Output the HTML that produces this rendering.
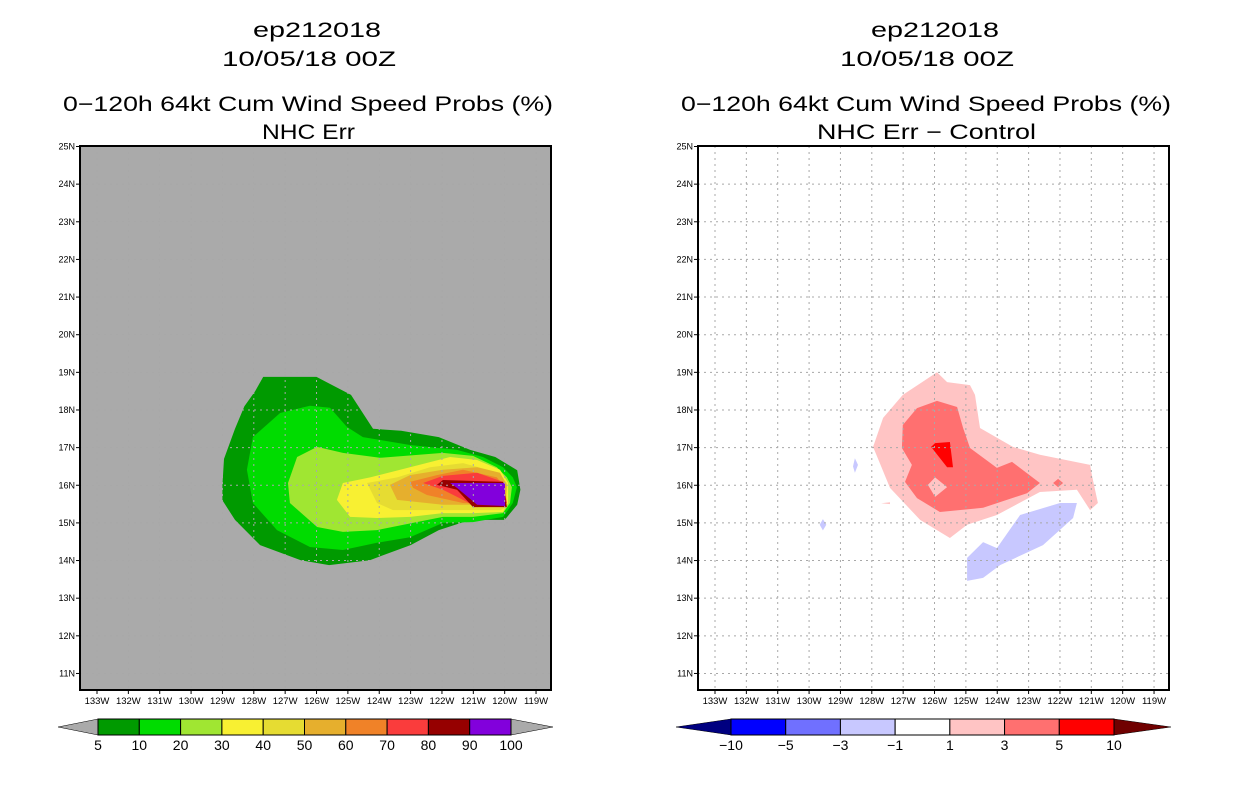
<!DOCTYPE html>
<html><head><meta charset="utf-8">
<style>
html,body{margin:0;padding:0;background:#fff;}
svg{display:block;font-family:"Liberation Sans",sans-serif;}
</style></head>
<body>
<svg id="fig" width="1236" height="800" viewBox="0 0 1236 800" xmlns="http://www.w3.org/2000/svg">
<g font-size="21" fill="#000" lengthAdjust="spacingAndGlyphs">
<text x="253" y="37" textLength="128" lengthAdjust="spacingAndGlyphs">ep212018</text>
<text x="222" y="66" textLength="174" lengthAdjust="spacingAndGlyphs">10/05/18 00Z</text>
<text x="63" y="111" textLength="490" lengthAdjust="spacingAndGlyphs">0−120h 64kt Cum Wind Speed Probs (%)</text>
<text x="262" y="139" textLength="93" lengthAdjust="spacingAndGlyphs">NHC Err</text>
<text x="871" y="37" textLength="128" lengthAdjust="spacingAndGlyphs">ep212018</text>
<text x="840" y="66" textLength="174" lengthAdjust="spacingAndGlyphs">10/05/18 00Z</text>
<text x="681" y="111" textLength="490" lengthAdjust="spacingAndGlyphs">0−120h 64kt Cum Wind Speed Probs (%)</text>
<text x="817" y="139" textLength="219" lengthAdjust="spacingAndGlyphs">NHC Err − Control</text>
</g>
</svg>
<script>
// ---- data ----
const lonTicks=[133,132,131,130,129,128,127,126,125,124,123,122,121,120,119];
const latTicks=[25,24,23,22,21,20,19,18,17,16,15,14,13,12,11];
const leftLevels=["5","10","20","30","40","50","60","70","80","90","100"];
const leftColors=["#009a00","#00dc00","#a0e632","#f8f032","#e6dc32","#e6af2d","#f08228","#fa3c3c","#960000","#8200dc"];
const rightLevels=["−10","−5","−3","−1","1","3","5","10"];
const rightColors=["#0000ff","#7070ff","#c8c8ff","#ffffff","#ffc4c4","#ff7070","#ff0000"];
// contour polygons [lonW, latN]
const p5=[[129.0,16.0],[128.95,16.7],[128.6,17.5],[128.3,18.1],[127.96,18.5],[127.7,18.88],[126.0,18.88],[124.9,18.4],[124.2,17.5],[123.3,17.45],[122.1,17.28],[121.1,16.94],[120.3,16.75],[119.6,16.4],[119.5,15.88],[119.6,15.48],[120.0,15.08],[121.1,15.08],[122.1,14.81],[123.0,14.41],[124.3,14.01],[125.6,13.88],[126.5,14.01],[127.8,14.41],[128.6,15.08],[129.0,15.6]];
const p10=[[127.16,17.92],[126.21,18.11],[125.57,18.06],[125.03,17.55],[124.52,17.28],[123.02,17.07],[121.52,16.94],[120.69,16.75],[120.05,16.48],[119.74,16.21],[119.61,15.95],[119.74,15.53],[120.05,15.16],[121.01,15.02],[121.97,15.0],[123.02,14.62],[124.07,14.47],[125.16,14.28],[126.21,14.36],[127.26,14.81],[128.03,15.53],[128.22,16.41],[128.03,17.28]];
const p20=[[125.98,17.02],[125.16,16.86],[123.98,16.73],[121.97,16.86],[121.01,16.78],[120.25,16.48],[119.93,16.21],[119.77,15.95],[119.83,15.53],[120.05,15.26],[121.01,15.16],[121.97,15.16],[124.07,14.81],[125.16,14.76],[125.98,14.89],[126.85,15.53],[126.91,16.06],[126.62,16.75]];
const p30=[[125.16,16.06],[124.29,16.21],[123.02,16.48],[121.74,16.75],[120.88,16.67],[120.15,16.41],[119.89,16.06],[119.89,15.53],[120.05,15.29],[121.01,15.26],[121.97,15.26],[123.02,15.16],[124.07,15.13],[124.93,15.16],[125.35,15.61]];
const p40=[[124.39,16.06],[123.43,16.21],[122.38,16.48],[121.33,16.59],[120.25,16.35],[119.93,16.06],[119.93,15.42],[120.15,15.34],[121.97,15.34],[123.56,15.34],[124.07,15.53]];
const p50=[[123.66,16.01],[123.02,16.27],[121.97,16.41],[120.88,16.48],[120.15,16.33],[119.93,16.01],[119.99,15.48],[121.97,15.48],[123.43,15.61]];
const p60=[[123.02,16.09],[122.16,16.27],[121.33,16.41],[120.25,16.21],[120.05,16.01],[120.05,15.48],[121.33,15.53],[122.48,15.74],[122.92,15.93]];
const p70=[[122.60,16.06],[121.97,16.25],[120.88,16.33],[120.05,16.09],[119.93,15.53],[120.88,15.42],[121.33,15.61],[121.97,15.88]];
const p80=[[122.16,16.01],[121.97,16.14],[120.05,16.09],[119.93,15.42],[121.01,15.42],[121.52,15.88]];
const p90=[[121.74,16.06],[119.99,16.06],[119.99,15.45],[120.88,15.48],[121.52,15.93]];
const rPink=[[125.92,19.0],[125.6,18.74],[124.87,18.66],[124.71,18.4],[124.55,17.52],[123.5,17.02],[122.64,16.81],[121.04,16.54],[120.98,16.27],[120.79,15.53],[121.04,15.34],[121.46,15.88],[122.64,15.82],[124.01,15.21],[124.96,14.95],[125.51,14.6],[126.46,15.08],[127.42,15.93],[127.96,17.02],[127.64,17.79],[127.01,18.4]];
const rMed=[[126.56,18.05],[125.92,18.24],[125.28,18.08],[125.09,17.52],[124.87,16.99],[124.01,16.46],[123.53,16.62],[122.64,16.06],[123.05,15.79],[124.45,15.4],[125.83,15.29],[126.56,15.66],[126.94,16.09],[126.72,16.54],[127.04,16.99],[127.01,17.6]];
const rHole=[[126.21,16.01],[125.98,16.21],[125.6,15.95],[125.98,15.69]];
const rRed=[[126.11,17.02],[125.98,17.12],[125.51,17.15],[125.41,16.48],[125.6,16.48]];
const rDot=[[122.22,16.06],[122.06,16.17],[121.9,16.06],[122.06,15.95]];
const rPinkDot=[[127.7,15.52],[127.42,15.55],[127.42,15.5]];
const rBlue=[[124.96,14.07],[124.45,14.49],[124.01,14.33],[123.27,15.21],[122.0,15.53],[121.46,15.53],[121.58,15.13],[122.54,14.41],[123.91,13.88],[124.45,13.54],[124.96,13.46]];
const rBlue2=[[128.54,16.72],[128.44,16.54],[128.54,16.33],[128.6,16.5]];
const rBlue3=[[129.56,15.1],[129.45,14.95],[129.56,14.8],[129.66,14.95]];

const NS="http://www.w3.org/2000/svg";
const svg=document.getElementById('fig');
function mk(tag,attrs,parent){const e=document.createElementNS(NS,tag);for(const k in attrs)e.setAttribute(k,attrs[k]);(parent||svg).appendChild(e);return e;}

function panel(x0,side){
  const L=x0,R=x0+471,T=146,B=690;
  const xs=lon=>x0+17+(133-lon)*31.36;
  const ys=lat=>146.5+(25-lat)*37.64;
  const g=mk('g',{});
  
  
  const cid='clip-'+side;
  const cp=mk('clipPath',{id:cid},g);mk('rect',{x:L,y:T,width:R-L,height:B-T},cp);
  const bg=mk('rect',{x:L,y:T,width:R-L,height:B-T,fill:side==='left'?'#aaaaaa':'#ffffff'},g);
  
  
  const cg=mk('g',{'clip-path':'url(#'+cid+')'},g);
  return {g,cg,xs,ys,L,R,T,B};
}
function poly(P,pts,fill,name){
  const d=pts.map((p,i)=>(i?'L':'M')+P.xs(p[0]).toFixed(1)+' '+P.ys(p[1]).toFixed(1)).join(' ')+'Z';
  const e=mk('path',{d:d,fill:fill},P.cg);
  
  
}
function axes(P,side){
  lonTicks.forEach(l=>{
    const x=P.xs(l);
    mk('line',{x1:x,y1:P.T,x2:x,y2:P.B,stroke:'#a8a8a8','stroke-width':1,'stroke-dasharray':'2,4'},P.g);
    mk('line',{x1:x,y1:P.B,x2:x,y2:P.B+4,stroke:'#000'},P.g);
    const t=mk('text',{x:x,y:P.B+14,'font-size':9.5,'text-anchor':'middle'},P.g);
    t.textContent=l+'W';
    
    
  });
  latTicks.forEach(l=>{
    const y=P.ys(l);
    mk('line',{x1:P.L,y1:y,x2:P.R,y2:y,stroke:'#a8a8a8','stroke-width':1,'stroke-dasharray':'2,4'},P.g);
    mk('line',{x1:P.L-4,y1:y,x2:P.L,y2:y,stroke:'#000'},P.g);
    const t=mk('text',{x:P.L-5,y:y+3,'font-size':9,'text-anchor':'end'},P.g);
    t.textContent=l+'N';
    
    
  });
  const f=mk('rect',{x:P.L,y:P.T,width:P.R-P.L,height:P.B-P.T,fill:'none',stroke:'#000','stroke-width':2},P.g);
  
  
}
// left
const PL=panel(80,'left');
[[p5,0],[p10,1],[p20,2],[p30,3],[p40,4],[p50,5],[p60,6],[p70,7],[p80,8],[p90,9]].forEach(([p,i])=>poly(PL,p,leftColors[i],'contour-'+leftLevels[i]+'pct'));
axes(PL,'left');
// right
const PR=panel(698,'right');
poly(PR,rPink,rightColors[4],'contour-pos-1');
poly(PR,rPinkDot,rightColors[4],'contour-pos-1-speck');
poly(PR,rMed,rightColors[5],'contour-pos-3');
poly(PR,rHole,rightColors[4],'contour-pos-3-hole');
poly(PR,rDot,rightColors[5],'contour-pos-3-spot');
poly(PR,rRed,rightColors[6],'contour-pos-5');
poly(PR,rBlue,rightColors[2],'contour-neg-1');
poly(PR,rBlue2,rightColors[2],'contour-neg-1-spot');
poly(PR,rBlue3,rightColors[2],'contour-neg-1-spot2');
axes(PR,'right');

// colorbars
function colorbar(side,x0,x1,tl,tr,colors,labels,leftTri,rightTri,y0,h){
  const g=mk('g',{});
  
  
  const n=colors.length,w=(x1-x0)/n,ym=y0+h/2;
  mk('polygon',{points:`${tl},${ym} ${x0},${y0} ${x0},${y0+h}`,fill:leftTri,stroke:'#000','stroke-width':0.5},g);
  mk('polygon',{points:`${tr},${ym} ${x1},${y0} ${x1},${y0+h}`,fill:rightTri,stroke:'#000','stroke-width':0.5},g);
  colors.forEach((c,i)=>{
    const r=mk('rect',{x:x0+i*w,y:y0,width:w,height:h,fill:c,stroke:'#000','stroke-width':1},g);
    
    
  });
  labels.forEach((l,i)=>{
    const t=mk('text',{x:x0+i*w,y:y0+h+15,'font-size':14,'text-anchor':'middle'},g);
    t.textContent=l;
    
    
  });
}
colorbar('left',98,511,58,553,leftColors,leftLevels,'#aaaaaa','#aaaaaa',719,16);
colorbar('right',731,1114,676,1171,rightColors,rightLevels,'#000080','#700000',719,16);
</script>
</body></html>
